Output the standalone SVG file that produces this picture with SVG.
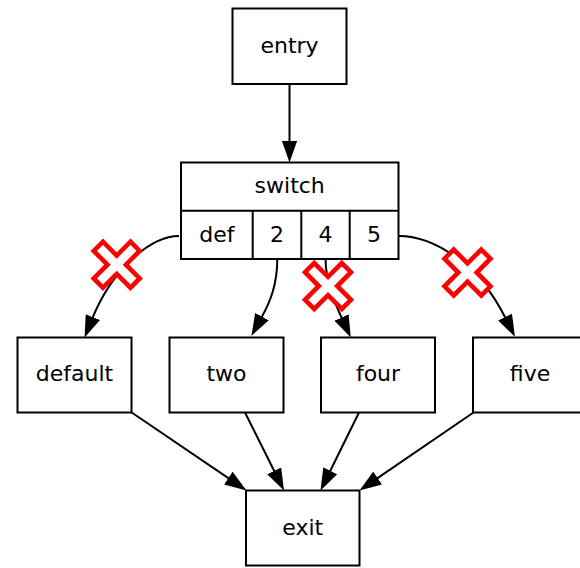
<svg xmlns="http://www.w3.org/2000/svg" xmlns:xlink="http://www.w3.org/1999/xlink" width="580" height="568" viewBox="0 0 580 568">
<style>
.box{fill:#fff;stroke:#000;stroke-width:2}
.sep{fill:none;stroke:#000;stroke-width:2}
.lbl{font-family:"DejaVu Sans",sans-serif;font-size:22px;fill:#000;text-anchor:middle}
.edge{fill:none;stroke:#000;stroke-width:2;marker-end:url(#ah)}
.cut{fill:#fff;stroke:#f00;stroke-width:4.6;stroke-linejoin:miter}
</style>
<defs>
<marker id="ah" markerUnits="userSpaceOnUse" markerWidth="22" markerHeight="15.5" viewBox="0 0 22 15.5" refX="1" refY="7.75" orient="auto">
<path d="M0,0 L22,7.75 L0,15.5 z" fill="#000"/>
</marker>
<path id="xm" d="M-6.5,-26 L6.5,-26 L6.5,-6.5 L26,-6.5 L26,6.5 L6.5,6.5 L6.5,26 L-6.5,26 L-6.5,6.5 L-26,6.5 L-26,-6.5 L-6.5,-6.5 z" transform="rotate(45)"/>
</defs>
<g id="connectors">
<path class="edge" d="M289.5,84 L289.5,141.5"/>
<path class="edge" d="M179,236 C150,236 112,270 92.5,318"/>
<path class="edge" d="M277.3,259 C277.3,285 270,302 261.5,317.5"/>
<path class="edge" d="M325.5,259 C326,282 333.5,300 342,318.5"/>
<path class="edge" d="M399,236 C433,236 478,263 505.5,318"/>
<path class="edge" d="M131.7,412.5 L229.1,478.7"/>
<path class="edge" d="M245,412.5 L274.6,471.7"/>
<path class="edge" d="M359,412.5 L329.8,471.7"/>
<path class="edge" d="M473.5,412.5 L376.8,478.6"/>
<g id="cuts">
<use xlink:href="#xm" class="cut" transform="translate(116.7,264.7)"/>
<use xlink:href="#xm" class="cut" transform="translate(328,286)"/>
<use xlink:href="#xm" class="cut" transform="translate(467.5,272.5)"/>
</g>
</g>
<g id="entry">
<rect class="box" x="232.5" y="8.5" width="114" height="75.5"/>
<text class="lbl" x="289.5" y="53">entry</text>
</g>
<g id="switch">
<rect class="box" x="181" y="162.5" width="217.5" height="96.5"/>
<path class="sep" d="M181,210.7 H398.5 M252.7,210.7 V259 M301.3,210.7 V259 M349.7,210.7 V259"/>
<text class="lbl" x="289.7" y="193">switch</text>
<text class="lbl" x="216.8" y="241.5">def</text>
<text class="lbl" x="277" y="241.5">2</text>
<text class="lbl" x="325.5" y="241.5">4</text>
<text class="lbl" x="374.1" y="241.5">5</text>
</g>
<g id="default">
<rect class="box" x="17.5" y="337.5" width="114" height="75"/>
<text class="lbl" x="74.5" y="381">default</text>
</g>
<g id="two">
<rect class="box" x="169.5" y="337.5" width="114" height="75"/>
<text class="lbl" x="226.5" y="381">two</text>
</g>
<g id="four">
<rect class="box" x="321" y="337.5" width="114" height="75"/>
<text class="lbl" x="378" y="381">four</text>
</g>
<g id="five">
<rect class="box" x="473" y="337.5" width="114" height="75"/>
<text class="lbl" x="530" y="381">five</text>
</g>
<g id="exit">
<rect class="box" x="246" y="490.5" width="113.5" height="75"/>
<text class="lbl" x="302.7" y="535">exit</text>
</g>
</svg>
